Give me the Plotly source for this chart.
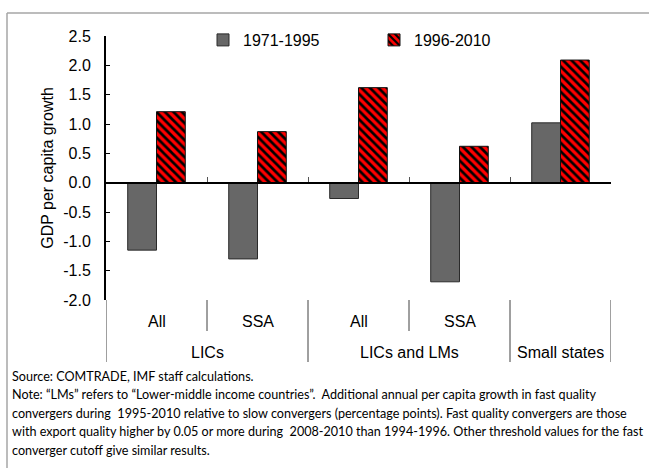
import plotly.graph_objects as go

# ---- data ----
groups = ["LICs", "LICs", "LICs and LMs", "LICs and LMs", "Small states"]
subcats = ["All", "SSA", "All", "SSA", ""]
series_names = ["1971-1995", "1996-2010"]
vals_1971_1995 = [-1.15, -1.30, -0.27, -1.69, 1.02]
vals_1996_2010 = [1.21, 0.87, 1.62, 0.62, 2.09]
ytick_vals = [-2.0, -1.5, -1.0, -0.5, 0.0, 0.5, 1.0, 1.5, 2.0, 2.5]
ytick_text = ["-2.0", "-1.5", "-1.0", "-0.5", "0.0", "0.5", "1.0", "1.5", "2.0", "2.5"]
note_lines = [
    "Source: COMTRADE, IMF staff calculations.",
    "Note: \u201cLMs\u201d refers to \u201cLower-middle income countries\u201d.  Additional annual per capita growth in fast quality",
    "convergers during  1995-2010 relative to slow convergers (percentage points). Fast quality convergers are those",
    "with export quality higher by 0.05 or more during  2008-2010 than 1994-1996. Other threshold values for the fast",
    "converger cutoff give similar results.",
]

# ---- geometry helpers (pixels -> paper) ----
W, H = 649, 468
ML, MR, MT, MB = 106, 38, 36, 168
PW, PH = W - ML - MR, H - MT - MB


def px(x):
    return (x - ML) / PW


def py(y):
    return (H - MB - y) / PH


cat_keys = [f"{g} | {s}" for g, s in zip(groups, subcats)]
FONT = "Liberation Sans, Arial, sans-serif"

fig = go.Figure()
fig.add_trace(go.Bar(
    x=cat_keys, y=vals_1971_1995, name=series_names[0], legend="legend",
    marker=dict(color="#676767", line=dict(color="#2a2a2a", width=1)),
))
fig.add_trace(go.Bar(
    x=cat_keys, y=vals_1996_2010, name=series_names[1], legend="legend2",
    marker=dict(color="#ff0000", line=dict(color="#111111", width=1),
                pattern=dict(shape="\\", fgcolor="#000000", bgcolor="#ff0000",
                             size=6, solidity=0.45, fillmode="replace")),
))

ymin, ymax = ytick_vals[0], ytick_vals[-1]
zero_frac = (0 - ymin) / (ymax - ymin)

fig.update_layout(
    width=W, height=H,
    margin=dict(l=ML, r=MR, t=MT, b=MB, autoexpand=False),
    paper_bgcolor="white", plot_bgcolor="white",
    barmode="group", bargap=0.43, bargroupgap=0,
    font=dict(family=FONT, size=16, color="#000000"),
    legend=dict(orientation="h", x=px(203), xanchor="left", y=py(40), yanchor="middle",
                font=dict(size=16), bgcolor="rgba(0,0,0,0)"),
    legend2=dict(orientation="h", x=px(374), xanchor="left", y=py(40), yanchor="middle",
                 font=dict(size=16), bgcolor="rgba(0,0,0,0)"),
    xaxis=dict(type="category", categoryorder="array", categoryarray=cat_keys,
               range=[-0.5, len(cat_keys) - 0.5],
               anchor="free", position=zero_frac, automargin=False,
               showline=True, linecolor="#000000", linewidth=2,
               ticks="inside", tickson="boundaries", ticklen=5, tickcolor="#555555", tickwidth=1,
               showticklabels=False, showgrid=False, zeroline=False),
    yaxis=dict(range=[ymin, ymax], tickvals=ytick_vals, ticktext=ytick_text, automargin=False,
               showline=True, linecolor="#000000", linewidth=2,
               ticks="inside", ticklen=4, tickcolor="#000000", tickwidth=1,
               ticklabelstandoff=10,
               showgrid=False, zeroline=False,
               title=dict(text="GDP per capita growth", font=dict(size=16), standoff=6)),
    showlegend=True,
)

shapes = []
n = len(cat_keys)
for i in range(n + 1):
    full = i == 0 or i == n or groups[i - 1] != groups[i]
    shapes.append(dict(type="line", xref="x", yref="paper", x0=i - 0.5, x1=i - 0.5,
                       y0=0, y1=py(362) if full else py(331),
                       line=dict(color="#404040", width=1)))
# outer frame
shapes.append(dict(type="line", xref="paper", yref="paper", x0=px(7), x1=px(660), y0=py(13), y1=py(13),
                   line=dict(color="#a6a6a6", width=1.5)))
shapes.append(dict(type="line", xref="paper", yref="paper", x0=px(7), x1=px(7), y0=py(13), y1=py(480),
                   line=dict(color="#a6a6a6", width=1.5)))
fig.update_layout(shapes=shapes)

annotations = []
for i, s in enumerate(subcats):
    if s:
        annotations.append(dict(x=i, y=py(321), xref="x", yref="paper", text=s, showarrow=False,
                                font=dict(size=16), xanchor="center", yanchor="middle"))
seen = []
for g in groups:
    if g not in seen:
        seen.append(g)
for g in seen:
    idx = [i for i, gg in enumerate(groups) if gg == g]
    annotations.append(dict(x=sum(idx) / len(idx), y=py(352), xref="x", yref="paper", text=g,
                            showarrow=False, font=dict(size=16), xanchor="center", yanchor="middle"))
note_y = [376, 394, 413, 431, 450]
for line, yy in zip(note_lines, note_y):
    annotations.append(dict(x=px(10), y=py(yy), xref="paper", yref="paper", text=line, showarrow=False,
                            font=dict(family="Lato, Carlito, sans-serif", size=12.6, color="#000000"),
                            xanchor="left", yanchor="middle", align="left"))
fig.update_layout(annotations=annotations)

fig.write_html("out.html", config={"displayModeBar": False},
               post_script="document.body.style.margin='0px';")
